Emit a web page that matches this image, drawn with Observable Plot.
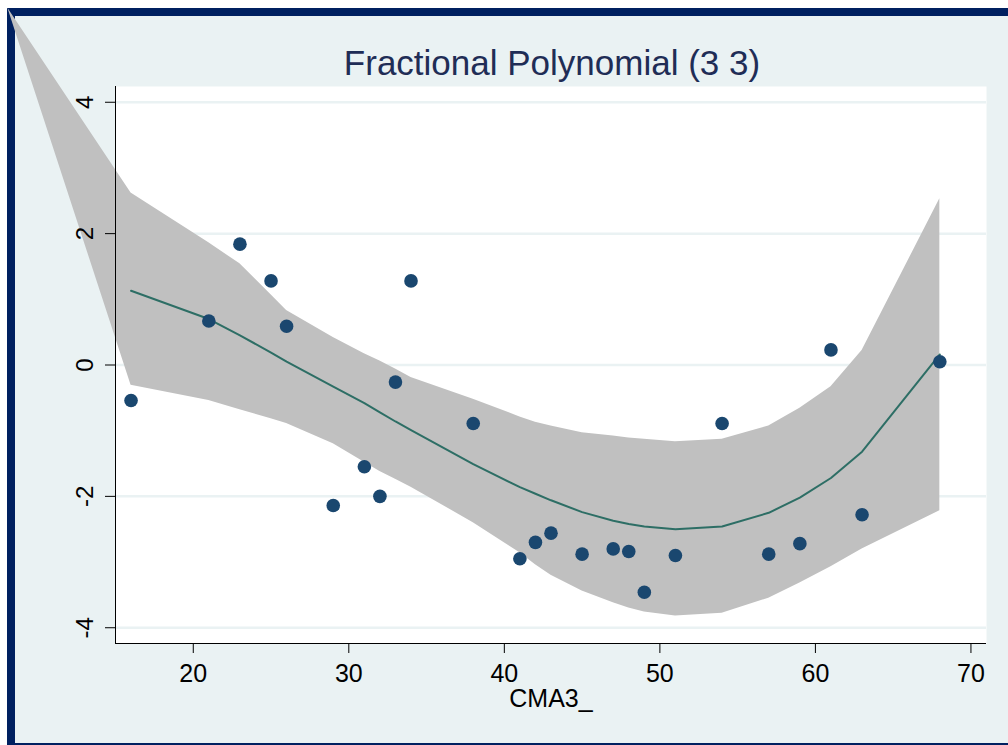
<!DOCTYPE html>
<html>
<head>
<meta charset="utf-8">
<script src="https://cdn.jsdelivr.net/npm/d3@7"></script>
<script src="https://cdn.jsdelivr.net/npm/@observablehq/plot@0.6"></script>
<style>
  html, body { margin: 0; padding: 0; background: #ffffff; overflow: hidden; }
  #wrap { position: relative; width: 1008px; height: 745px; overflow: hidden; }
  #graphregion {
    position: absolute; left: 7px; top: 8px;
    width: 1100px; height: 727px;
    background: #EAF2F3;
    border: 8px solid #002060;
  }
  #chart { position: absolute; left: 0; top: 0; }
  #chart svg { display: block; }
</style>
</head>
<body>
<div id="wrap">
  <div id="graphregion"></div>
  <div id="chart"></div>
</div>
<script>
// ---- Data ----
const titleText = "Fractional Polynomial (3 3)";
const xLabelText = "CMA3_";

// observed points
const pointX = [16, 21, 23, 25, 26, 29, 31, 32, 33, 34, 38, 41, 42, 43, 45, 47, 48, 49, 51, 54, 57, 59, 61, 63, 68];
const pointY = [-0.54, 0.67, 1.84, 1.28, 0.59, -2.14, -1.55, -2.00, -0.26, 1.28, -0.89, -2.95, -2.70, -2.56, -2.88, -2.80, -2.84, -3.46, -2.90, -0.89, -2.88, -2.72, 0.23, -2.28, 0.05];

// fitted fractional polynomial at the observed x values
const fitX = [16, 21, 23, 25, 26, 29, 31, 32, 33, 34, 38, 41, 42, 43, 45, 47, 48, 49, 51, 54, 57, 59, 61, 63, 68];
const fitY = [1.13, 0.70, 0.45, 0.19, 0.05, -0.33, -0.58, -0.72, -0.86, -0.99, -1.51, -1.86, -1.96, -2.06, -2.24, -2.37, -2.42, -2.46, -2.50, -2.46, -2.25, -2.02, -1.72, -1.32, 0.16];

// confidence band (first vertex lies off the plot region, top-left)
const bandX  = [8.08, 16, 21, 23, 25, 26, 29, 31, 32, 33, 34, 38, 41, 42, 43, 45, 47, 48, 49, 51, 54, 57, 59, 61, 63, 68];
const bandHi = [5.43, 2.62, 1.86, 1.54, 1.07, 0.83, 0.42, 0.17, 0.06, -0.06, -0.19, -0.52, -0.79, -0.87, -0.93, -1.03, -1.08, -1.11, -1.13, -1.17, -1.13, -0.93, -0.66, -0.33, 0.22, 2.53];
const bandLo = [5.43, -0.31, -0.54, -0.68, -0.82, -0.89, -1.20, -1.48, -1.62, -1.74, -1.86, -2.40, -2.86, -3.04, -3.20, -3.44, -3.62, -3.70, -3.76, -3.82, -3.78, -3.55, -3.32, -3.07, -2.80, -2.22];

// axes
const xDomain = [15, 71];
const yDomain = [-4.24, 4.24];
const xTicks = [20, 30, 40, 50, 60, 70];
const xTickLabels = ["20", "30", "40", "50", "60", "70"];
const yTicks = [-4, -2, 0, 2, 4];
const yTickLabels = ["-4", "-2", "0", "2", "4"];

// ---- Tables built from the arrays ----
const points = pointX.map((x, i) => ({x, y: pointY[i]}));
const fit = fitX.map((x, i) => ({x, y: fitY[i]}));
const band = bandX.map((x, i) => ({x, lo: bandLo[i], hi: bandHi[i]}));
const yLab = yTicks.map((v, i) => ({v, t: yTickLabels[i]}));

const font = "'Liberation Sans', Arial, Helvetica, sans-serif";

const chart = Plot.plot({
  width: 1008,
  height: 745,
  marginLeft: 115,
  marginRight: 22,
  marginTop: 86,
  marginBottom: 102,
  x: {domain: xDomain},
  y: {domain: yDomain},
  style: {background: "transparent", fontFamily: font, color: "black", overflow: "visible"},
  marks: [
    Plot.frame({fill: "white", stroke: null}),
    Plot.ruleY(yTicks, {stroke: "#EAF2F3", strokeWidth: 2.5}),
    Plot.areaY(band, {x: "x", y1: "lo", y2: "hi", fill: "#C0C0C0", fillOpacity: 1, curve: "linear"}),
    Plot.line(fit, {x: "x", y: "y", stroke: "#2D6E65", strokeWidth: 2, curve: "linear"}),
    Plot.dot(points, {x: "x", y: "y", r: 6.8, fill: "#1A476F", stroke: null}),
    Plot.ruleX([xDomain[0]], {stroke: "black", strokeWidth: 1}),
    Plot.ruleY([yDomain[0]], {stroke: "black", strokeWidth: 1}),
    Plot.axisX(xTicks, {
      tickSize: 10, tickPadding: 11, fontSize: 25, label: null,
      tickFormat: (d) => xTickLabels[xTicks.indexOf(d)], stroke: "black", fill: "black"
    }),
    Plot.axisY(yTicks, {tickSize: 10, tickFormat: () => "", label: null, stroke: "black"}),
    Plot.text(yLab, {
      y: "v", text: "t", frameAnchor: "left", dx: -23, rotate: -90,
      textAnchor: "middle", lineAnchor: "bottom", fontSize: 24, fill: "black"
    }),
    Plot.text([xLabelText], {
      frameAnchor: "bottom", dy: 55, lineAnchor: "middle", textAnchor: "middle",
      fontSize: 25, fill: "black"
    }),
    Plot.text([titleText], {
      frameAnchor: "top", dx: 1, dy: -23.2, lineAnchor: "middle", textAnchor: "middle",
      fontSize: 35, fill: "#1F2D56"
    })
  ]
});

document.getElementById("chart").appendChild(chart);
</script>
</body>
</html>
